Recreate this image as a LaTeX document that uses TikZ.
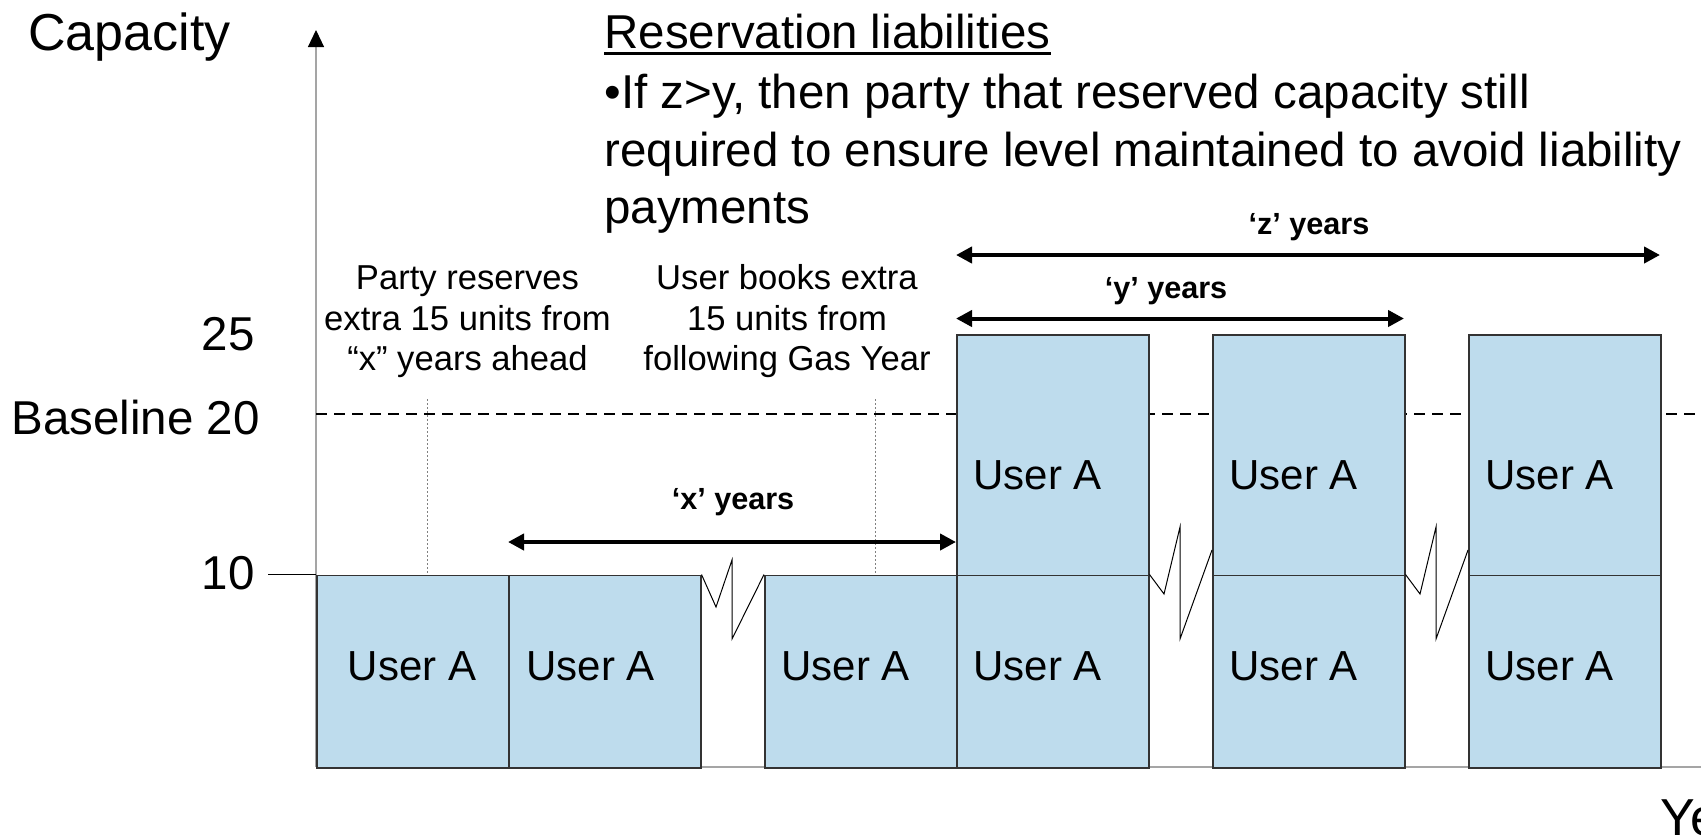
\documentclass[tikz,border=0pt]{standalone}
\usepackage{fontspec}
\setmainfont{Liberation Sans}
\usetikzlibrary{arrows.meta}
\definecolor{boxblue}{RGB}{190,220,237}
\definecolor{axisgray}{RGB}{165,165,165}
\begin{document}
\begin{tikzpicture}[x=0.5pt,y=-0.5pt,
  ubox/.style={draw=black!80, line width=0.75pt, fill=boxblue, inner sep=0pt, minimum width=96pt, anchor=north west},
  lowbox/.style={ubox, minimum height=96.25pt},
  highbox/.style={ubox, minimum height=120.25pt},
  ulabel/.style={font=\fontsize{21}{25}\selectfont, inner sep=0pt, anchor=base west},
  axlabel/.style={font=\fontsize{23.75}{28.5}\selectfont, inner sep=0pt, anchor=base east},
  bigtext/.style={font=\fontsize{26}{31}\selectfont, inner sep=0pt, anchor=base west},
  para/.style={font=\fontsize{23.75}{28.5}\selectfont, inner sep=0pt, anchor=base west},
  note/.style={font=\fontsize{17.3}{20.25}\selectfont, inner sep=0pt, anchor=base},
  dimlabel/.style={font=\bfseries\fontsize{15.3}{18}\selectfont, inner sep=0pt, anchor=base},
  dimarrow/.style={line width=2pt, {Triangle[length=8pt,width=8pt]}-{Triangle[length=8pt,width=8pt]}},
  axisline/.style={draw=axisgray, line width=0.6pt},
  guide/.style={draw=gray, line width=0.5pt, dash pattern=on 1pt off 1pt},
  dashline/.style={draw=black, line width=1.25pt, dash pattern=on 5.5pt off 3.5pt},
  zig/.style={draw=black, line width=0.5pt}
]
\useasboundingbox (0,0) rectangle (1701,837);
\clip (0,0) rectangle (1701,837);

% axes
\coordinate (o) at (316,767);
\coordinate (ytop) at (316,30);
\coordinate (xend) at (1710,767);
\draw[axisline, -{Triangle[length=8.5pt,width=8pt,color=black]}] (o) -- (ytop);
\draw[axisline] (o) -- (xend);

% baseline 20 dashed line
\coordinate (dl) at (316,414);
\coordinate (dr) at (1710,414);
\draw[dashline] (dl) -- (dr);

% guide lines
\coordinate (g1) at (427.5,399);
\coordinate (g2) at (875.5,399);
\draw[guide] (g1) -- (427.5,574.5);
\draw[guide] (g2) -- (875.5,574.5);

% boxes
\node[lowbox] (b1) at (316,574.5) {};
\node[lowbox] (b2) at (508,574.5) {};
\node[lowbox] (b3) at (764,574.5) {};
\node[lowbox] (b4) at (956,574.5) {};
\node[highbox] (b4u) at (956,334) {};
\node[lowbox] (b5) at (1212,574.5) {};
\node[highbox] (b5u) at (1212,334) {};
\node[lowbox] (b6) at (1468,574.5) {};
\node[highbox] (b6u) at (1468,334) {};

% tick at 10
\coordinate (tick) at (268,574.5);
\draw[line width=0.6pt] (tick) -- (b1.north west);

% break symbols
\draw[zig] (b2.north east) -- (716,607) -- (732,560) -- (732,639) -- (b3.north west);
\draw[zig] (b4.north east) -- (1164,594) -- (1180,527) -- (1180,639) -- (1212,550);
\draw[zig] (b5.north east) -- (1420,594) -- (1436,527) -- (1436,639) -- (1468,550);

% box labels
\node[ulabel, anchor=base] (l1) at (412,680) {User A};
\node[ulabel] (l2) at (526,680) {User A};
\node[ulabel] (l3) at (781,680) {User A};
\node[ulabel] (l4) at (973,680) {User A};
\node[ulabel] (l4u) at (973,489) {User A};
\node[ulabel] (l5) at (1229,680) {User A};
\node[ulabel] (l5u) at (1229,489) {User A};
\node[ulabel] (l6) at (1485,680) {User A};
\node[ulabel] (l6u) at (1485,489) {User A};

% dimension arrows
\coordinate (zl) at (956,255);
\coordinate (zr) at (1660,255);
\coordinate (yl) at (956,318.5);
\coordinate (yr) at (1404,318.5);
\coordinate (xl) at (508,542);
\coordinate (xr) at (956,542);
\draw[dimarrow] (zl) -- (zr);
\draw[dimarrow] (yl) -- (yr);
\draw[dimarrow] (xl) -- (xr);
\node[dimlabel] (zlab) at (1309,234) {‘z’ years};
\node[dimlabel] (ylab) at (1166,298) {‘y’ years};
\node[dimlabel] (xlab) at (733,509) {‘x’ years};

% axis labels
\node[bigtext] (cap) at (28,50) {Capacity};
\node[bigtext] (yrs) at (1660,835) {Years};
\node[axlabel] (v25) at (255,350) {25};
\node[axlabel] (v20) at (260,434) {Baseline 20};
\node[axlabel] (v10) at (255,589) {10};

% title and paragraph
\node[para] (title) at (604,48) {Reservation liabilities};
\draw[line width=1.5pt] ([yshift=-2.5pt]title.base west) -- ([yshift=-2.5pt]title.base east);
\node[para] (p1) at (604,108) {•If z>y, then party that reserved capacity still};
\node[para] (p2) at (604,166) {required to ensure level maintained to avoid liability};
\node[para] (p3) at (604,223) {payments};

% notes
\node[note] (n1a) at (467.5,289) {Party reserves};
\node[note] (n1b) at (467.5,330) {extra 15 units from};
\node[note] (n1c) at (467.5,370) {“x” years ahead};
\node[note] (n2a) at (787,289) {User books extra};
\node[note] (n2b) at (787,330) {15 units from};
\node[note] (n2c) at (787,370) {following Gas Year};
\end{tikzpicture}
\end{document}
